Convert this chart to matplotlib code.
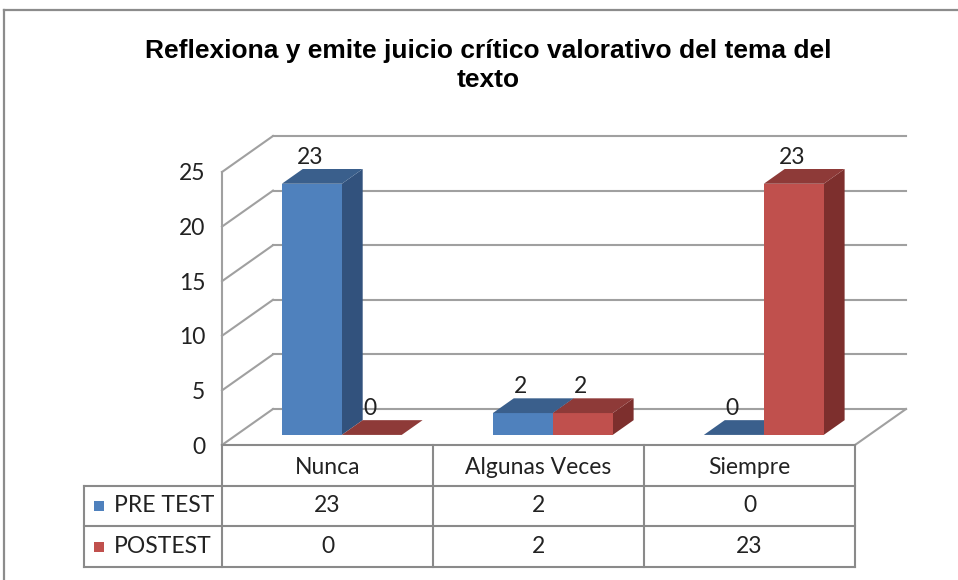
import matplotlib
matplotlib.use("Agg")
import matplotlib.pyplot as plt
from matplotlib.patches import Polygon, Rectangle
from matplotlib.lines import Line2D

# ---- data ----
title = "Reflexiona y emite juicio crítico valorativo del tema del\ntexto"
categories = ["Nunca", "Algunas Veces", "Siempre"]
series_names = ["PRE TEST", "POSTEST"]
pre_test = [23, 2, 0]
postest = [0, 2, 23]
yticks = [0, 5, 10, 15, 20, 25]

# ---- styles ----
front_cols = ["#4F81BD", "#C0504D"]
top_cols = ["#3A5F8C", "#8E3A38"]
side_cols = ["#32527D", "#7D2F2D"]
grid_col = "#a0a0a0"
table_col = "#8a8a8a"
FONT = ["Lato", "DejaVu Sans"]
FS = 16.5

W, H = 958, 580
fig = plt.figure(figsize=(W / 100, H / 100), dpi=100)

def fx(px):
    return px / W

def fy(py):
    return 1 - py / H

# outer chart border (top and left visible)
fig.add_artist(Line2D([fx(4), fx(4)], [fy(10), 0], color="#8c8c8c", lw=1.6,
                      transform=fig.transFigure))
fig.add_artist(Line2D([fx(4), 1], [fy(10), fy(10)], color="#8c8c8c", lw=1.6,
                      transform=fig.transFigure))

fig.text(fx(488), fy(65.5), title, ha="center", va="center", fontsize=19,
         fontweight="bold", family=["Liberation Sans", "DejaVu Sans"],
         linespacing=1.25)

# main axes = front plane of 3D plot
L, R, B, T = 222, 855, 445, 172
ax = fig.add_axes([fx(L), fy(B), fx(R - L), (B - T) / H])
ncat = len(categories)
ax.set_xlim(0, ncat)
ax.set_ylim(0, 25)
for s in ax.spines.values():
    s.set_visible(False)
ax.set_xticks([])
ax.set_yticks(yticks)
ax.set_yticklabels([str(v) for v in yticks], fontsize=FS, family=FONT, color="#222222")
ax.tick_params(axis="y", length=0, pad=12)
ax.patch.set_alpha(0)

px_per_x = (R - L) / ncat
px_per_y = (B - T) / 25.0
DX = 51 / px_per_x
DY = 36 / px_per_y

# walls & gridlines
ax.plot([0, 0], [0, 25], color=grid_col, lw=1.5, clip_on=False, zorder=1)
for v in yticks:
    ax.plot([0, DX], [v, v + DY], color=grid_col, lw=1.5, clip_on=False, zorder=1)
    ax.plot([DX, ncat + DX], [v + DY, v + DY], color=grid_col, lw=1.5,
            clip_on=False, zorder=1)
ax.plot([ncat, ncat + DX], [0, DY], color=grid_col, lw=1.5, clip_on=False, zorder=1)
ax.plot([0, ncat], [0, 0], color=table_col, lw=1.5, clip_on=False, zorder=1)

# bars
BW = 0.284
f0, f1 = 0.28, 0.69
series = [pre_test, postest]
z = 3
for i in range(ncat):
    for j, vals in enumerate(series):
        v = vals[i]
        x0 = i + 0.5 - BW + j * BW + f0 * DX
        y0 = f0 * DY
        ddx = (f1 - f0) * DX
        ddy = (f1 - f0) * DY
        front = Rectangle((x0, y0), BW, v, facecolor=front_cols[j], edgecolor="none",
                          clip_on=False, zorder=z)
        top = Polygon([(x0, y0 + v), (x0 + BW, y0 + v), (x0 + BW + ddx, y0 + v + ddy),
                       (x0 + ddx, y0 + v + ddy)], closed=True, facecolor=top_cols[j],
                      edgecolor="none", clip_on=False, zorder=z)
        side = Polygon([(x0 + BW, y0), (x0 + BW + ddx, y0 + ddy),
                        (x0 + BW + ddx, y0 + v + ddy), (x0 + BW, y0 + v)], closed=True,
                       facecolor=side_cols[j], edgecolor="none", clip_on=False, zorder=z)
        ax.add_patch(side)
        ax.add_patch(front)
        ax.add_patch(top)
        z += 1
        ax.text(x0 + BW / 2 - 2 / px_per_x, v + f1 * DY + 12 / px_per_y, str(v),
                ha="center", va="center", fontsize=FS, family=FONT, color="#222222",
                zorder=20, clip_on=False)

# data table
TL = 84
tax = fig.add_axes([fx(TL), fy(567), fx(R - TL), (567 - 445) / H])
tax.set_xlim(-(L - TL) / px_per_x, ncat)
tax.set_ylim(3, 0)
tax.axis("off")
xl = -(L - TL) / px_per_x
lk = dict(color=table_col, lw=1.5, clip_on=False)
for yy in [1, 2, 3]:
    tax.plot([xl, ncat], [yy, yy], **lk)
for xx in range(ncat + 1):
    tax.plot([xx, xx], [0, 3], **lk)
tax.plot([xl, xl], [1, 3], **lk)

for i, c in enumerate(categories):
    tax.text(i + 0.5, 0.55, c, ha="center", va="center", fontsize=FS, family=FONT,
             color="#222222")
for j, (name, vals) in enumerate(zip(series_names, series)):
    yc = 1.5 + j
    tax.text(xl + 30 / px_per_x, yc, name, ha="left", va="center", fontsize=FS,
             family=FONT, color="#222222")
    tax.add_patch(Rectangle((xl + 10 / px_per_x, yc - 0.12), 10 / px_per_x, 0.24,
                            facecolor=front_cols[j], edgecolor="none", clip_on=False))
    for i, v in enumerate(vals):
        tax.text(i + 0.5, yc, str(v), ha="center", va="center", fontsize=FS,
                 family=FONT, color="#222222")

fig.savefig("out.png", dpi=100)
